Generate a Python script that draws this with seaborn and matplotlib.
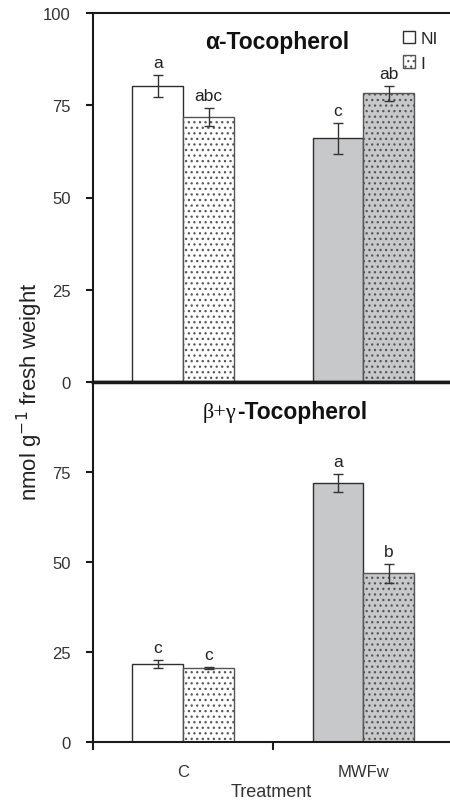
import matplotlib
matplotlib.use("Agg")
import matplotlib.pyplot as plt
import seaborn as sns
import pandas as pd
from matplotlib.patches import Patch

sns.set_theme(style="white")
plt.rcParams['font.family'] = ['Liberation Sans', 'DejaVu Sans']
plt.rcParams['hatch.linewidth'] = 0.9

treatments = ["C", "MWFw"]
groups = ["NI", "I"]
alpha_vals = {"NI": [80.3, 66.0], "I": [71.9, 78.2]}
alpha_err = {"NI": [3.0, 4.2], "I": [2.4, 2.0]}
alpha_letters = {"NI": ["a", "c"], "I": ["abc", "ab"]}
bg_vals = {"NI": [21.7, 72.0], "I": [20.6, 46.9]}
bg_err = {"NI": [1.1, 2.5], "I": [0.3, 2.6]}
bg_letters = {"NI": ["c", "a"], "I": ["c", "b"]}
yticks_top = [0, 25, 50, 75, 100]
yticks_bottom = [0, 25, 50, 75]

fill_colors = {("C", "NI"): "white", ("C", "I"): "white",
               ("MWFw", "NI"): "#c7c8ca", ("MWFw", "I"): "#c7c8ca"}
edge = "#2e2e2e"

def make_df(vals, errs, letters):
    rows = []
    for g in groups:
        for i, t in enumerate(treatments):
            rows.append({"Treatment": t, "Group": g, "value": vals[g][i],
                         "err": errs[g][i], "letter": letters[g][i]})
    return pd.DataFrame(rows)

fig = plt.figure(figsize=(4.5, 8.04), dpi=100)
ax1 = fig.add_axes([93/450, 1-383/804, 1-93/450, (383-14)/804])
ax2 = fig.add_axes([93/450, 1-743/804, 1-93/450, (743-383)/804])

def draw(ax, df):
    sns.barplot(data=df, x="Treatment", y="value", hue="Group", order=treatments,
                hue_order=groups, width=0.565, errorbar=None, ax=ax, legend=False,
                palette=["white", "white"], edgecolor=edge, linewidth=1.0)
    bars = [p for p in ax.patches if p.get_height() > 0]
    k = 0
    for g in groups:
        for t in treatments:
            p = bars[k]; k += 1
            p.set_facecolor(fill_colors[(t, g)])
            p.set_edgecolor(edge)
            if g == "I":
                p.set_hatch("...")
                p.set_edgecolor("#555555")
            row = df[(df.Treatment == t) & (df.Group == g)].iloc[0]
            xc = p.get_x() + p.get_width() / 2
            ax.errorbar(xc, row.value, yerr=row.err, color="#333333", capsize=3.5,
                        elinewidth=1.0, capthick=1.0, fmt="none", zorder=5)
            ax.text(xc, row.value + row.err + 1.3, row.letter, ha="center",
                    va="bottom", fontsize=12.5, color="#222222")
    ax.set_xlim(-0.5, 1.48)
    ax.set_ylim(0, 100)
    ax.set_xlabel("")
    ax.set_ylabel("")
    for s in ["left", "bottom", "top"]:
        ax.spines[s].set_visible(True)
        ax.spines[s].set_color("#1a1a1a")
        ax.spines[s].set_linewidth(1.5)
    ax.spines["right"].set_visible(False)
    ax.tick_params(axis="y", direction="out", length=5, width=1.5, color="#1a1a1a",
                   labelsize=12, labelcolor="#333333", left=True, pad=11)

draw(ax1, make_df(alpha_vals, alpha_err, alpha_letters))
draw(ax2, make_df(bg_vals, bg_err, bg_letters))

ax1.set_yticks(yticks_top)
ax1.set_xticks([])
ax1.spines["bottom"].set_linewidth(2.5)
ax2.spines["top"].set_linewidth(2.5)
ax2.set_yticks(yticks_bottom)
ax2.set_xticks([0, 1])
ax2.set_xticklabels(treatments)
ax2.set_xticks([-0.5, 0.5], minor=True)
ax2.tick_params(axis="x", which="major", length=0, labelsize=12, labelcolor="#333333", pad=16)
ax2.tick_params(axis="x", which="minor", direction="out", length=6, width=1.5,
                color="#1a1a1a", bottom=True)
ax2.set_xlabel("Treatment", fontsize=13, color="#333333", labelpad=3)

ax1.text(0.52, 92.4, "α-Tocopherol", ha="center", va="center", fontsize=16.5,
         fontweight="bold", color="#111111")
ax2.text(0.297, 91.7, "β+γ", ha="right", va="center", fontsize=16,
         family=["Liberation Serif", "DejaVu Serif"], color="#111111")
ax2.text(0.297, 91.7, "-Tocopherol", ha="left", va="center", fontsize=16.5,
         fontweight="bold", color="#111111")

handles = [Patch(facecolor="white", edgecolor=edge, linewidth=1.0, label="NI"),
           Patch(facecolor="white", edgecolor="#555555", hatch="...", linewidth=1.0, label="I")]
ax1.legend(handles=handles, loc="upper right", bbox_to_anchor=(1.0, 0.985), frameon=False,
           fontsize=12.5, handlelength=0.7, handleheight=0.7, handletextpad=0.3,
           labelspacing=0.55, borderaxespad=0.3)

fig.text(30/450, 1-392/804, "nmol g$^{-1}$ fresh weight", rotation=90, ha="center",
         va="center", fontsize=16, color="#222222")

fig.savefig("out.png", dpi=100)
